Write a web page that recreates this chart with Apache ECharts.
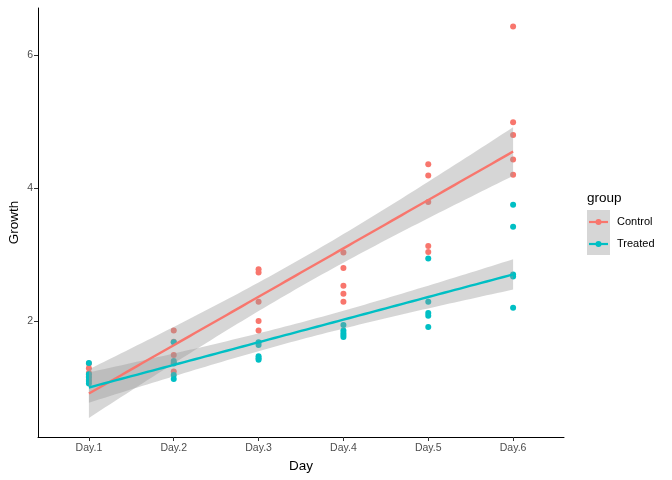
<!DOCTYPE html>
<html>
<head>
<meta charset="utf-8">
<script src="https://cdn.jsdelivr.net/npm/echarts@6/dist/echarts.min.js"></script>
<style>html,body{margin:0;padding:0;background:#fff;}#c{width:672px;height:480px;}</style>
</head>
<body>
<div id="c"></div>
<script>
var days = ['Day.1','Day.2','Day.3','Day.4','Day.5','Day.6'];
var groups = ['Control','Treated'];
var controlValues = [
  [1.36, 1.29, 1.22, 1.17, 1.12],
  [1.86, 1.69, 1.49, 1.37, 1.24],
  [2.78, 2.73, 2.29, 2.00, 1.86],
  [3.03, 2.80, 2.53, 2.41, 2.29],
  [4.36, 4.19, 3.79, 3.13, 3.04],
  [6.43, 4.99, 4.80, 4.43, 4.20]
];
var treatedValues = [
  [1.37, 1.20, 1.15, 1.10, 1.06],
  [1.68, 1.40, 1.36, 1.19, 1.13],
  [1.68, 1.64, 1.47, 1.44, 1.42],
  [1.94, 1.86, 1.82, 1.79, 1.76],
  [2.94, 2.29, 2.12, 2.08, 1.91],
  [3.75, 3.42, 2.70, 2.67, 2.20]
];
var yTicks = [2, 4, 6];
var colors = {Control: '#F8766D', Treated: '#00BFC4'};

function toPoints(vals) {
  var pts = [];
  vals.forEach(function (arr, i) { arr.forEach(function (v) { pts.push([i + 1, v]); }); });
  return pts;
}
function lmFit(pts) {
  var n = pts.length, sx = 0, sy = 0;
  pts.forEach(function (p) { sx += p[0]; sy += p[1]; });
  var mx = sx / n, my = sy / n, sxx = 0, sxy = 0;
  pts.forEach(function (p) { sxx += (p[0] - mx) * (p[0] - mx); sxy += (p[0] - mx) * (p[1] - my); });
  var b = sxy / sxx, a = my - b * mx, sse = 0;
  pts.forEach(function (p) { var r = p[1] - (a + b * p[0]); sse += r * r; });
  var s = Math.sqrt(sse / (n - 2));
  var t = 2.0484; // t(0.975, 28)
  var line = [], band = [];
  for (var k = 0; k <= 80; k++) {
    var x = 1 + 5 * k / 80;
    var f = a + b * x;
    var se = s * Math.sqrt(1 / n + (x - mx) * (x - mx) / sxx);
    line.push([x, f]);
    band.push([x, f - t * se, f + t * se]);
  }
  return {line: line, band: band};
}
var series = [];
var fits = {};
[['Control', controlValues], ['Treated', treatedValues]].forEach(function (g) {
  var pts = toPoints(g[1]);
  fits[g[0]] = lmFit(pts);
  series.push({
    type: 'scatter', name: g[0], data: pts, symbolSize: 6, z: 1,
    itemStyle: {color: colors[g[0]], opacity: 1}, silent: true
  });
});
groups.forEach(function (gname) {
  var band = fits[gname].band;
  series.push({
    type: 'custom', name: gname + ' band', z: 2, silent: true,
    data: band,
    renderItem: function (params, api) {
      if (params.dataIndex !== 0) return null;
      var pts = [];
      band.forEach(function (b) { pts.push(api.coord([b[0], b[2]])); });
      for (var i = band.length - 1; i >= 0; i--) pts.push(api.coord([band[i][0], band[i][1]]));
      return {type: 'polygon', shape: {points: pts}, style: {fill: 'rgba(153,153,153,0.4)', stroke: null}};
    },
    encode: {x: 0, y: [1, 2]}
  });
});
groups.forEach(function (gname) {
  series.push({
    type: 'line', name: gname, data: fits[gname].line, showSymbol: false, z: 3, silent: true,
    lineStyle: {color: colors[gname], width: 2.4}, itemStyle: {color: colors[gname]}
  });
});

var axisLabelStyle = {color: '#4D4D4D', fontSize: 10.5, fontFamily: 'Liberation Sans, Arial, sans-serif'};
var option = {
  animation: false,
  backgroundColor: '#fff',
  grid: {left: 38, right: 108, top: 8, bottom: 43, containLabel: false, outerBoundsMode: 'none'},
  xAxis: {
    type: 'value', min: 0.4, max: 6.6,
    name: 'Day', nameLocation: 'middle', nameGap: 22, nameMoveOverlap: false,
    nameTextStyle: {color: '#000', fontSize: 13.5, fontFamily: 'Liberation Sans, Arial, sans-serif'},
    axisLine: {show: true, lineStyle: {color: '#000', width: 1}},
    axisTick: {show: true, length: 4, lineStyle: {color: '#333'}, customValues: [1, 2, 3, 4, 5, 6]},
    axisLabel: Object.assign({margin: 6, customValues: [1, 2, 3, 4, 5, 6], formatter: function (v) { return days[Math.round(v) - 1]; }}, axisLabelStyle),
    splitLine: {show: false}
  },
  yAxis: {
    type: 'value', min: 0.256, max: 6.71,
    name: 'Growth', nameLocation: 'middle', nameGap: 17, nameRotate: 90, nameMoveOverlap: false,
    nameTextStyle: {color: '#000', fontSize: 13.5, fontFamily: 'Liberation Sans, Arial, sans-serif'},
    axisLine: {show: true, lineStyle: {color: '#000', width: 1}},
    axisTick: {show: true, length: 4, lineStyle: {color: '#333'}, customValues: yTicks},
    axisLabel: Object.assign({margin: 5, customValues: yTicks}, axisLabelStyle),
    splitLine: {show: false}
  },
  series: series,
  graphic: [
    {type: 'text', left: 587, top: 191, style: {text: 'group', fill: '#000', font: '13.5px Liberation Sans, Arial, sans-serif'}},
    {type: 'rect', shape: {x: 587, y: 210, width: 23, height: 45}, style: {fill: '#D6D6D6'}},
    {type: 'line', shape: {x1: 589, y1: 222, x2: 608, y2: 222}, style: {stroke: colors.Control, lineWidth: 2.2}},
    {type: 'circle', shape: {cx: 598.5, cy: 222, r: 3}, style: {fill: colors.Control}},
    {type: 'line', shape: {x1: 589, y1: 244, x2: 608, y2: 244}, style: {stroke: colors.Treated, lineWidth: 2.2}},
    {type: 'circle', shape: {cx: 598.5, cy: 244, r: 3}, style: {fill: colors.Treated}},
    {type: 'text', left: 617, top: 216, style: {text: groups[0], fill: '#000', font: '11px Liberation Sans, Arial, sans-serif'}},
    {type: 'text', left: 617, top: 238, style: {text: groups[1], fill: '#000', font: '11px Liberation Sans, Arial, sans-serif'}}
  ]
};
var chart = echarts.init(document.getElementById('c'), null, {renderer: 'canvas'});
chart.setOption(option);
</script>
</body>
</html>
